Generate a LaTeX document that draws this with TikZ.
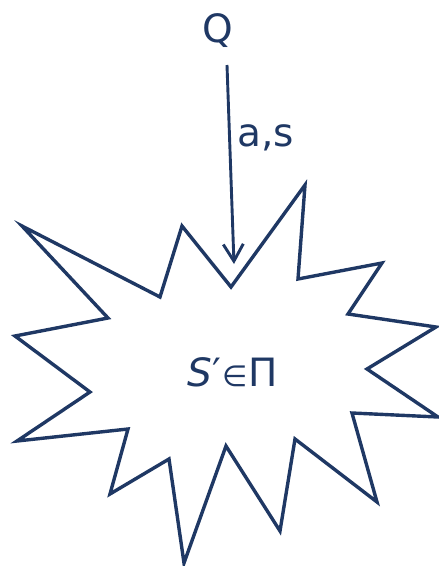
\documentclass[tikz,border=0pt]{standalone}
\usepackage{fontspec}
\setmainfont{DejaVu Sans}
\usetikzlibrary{arrows.meta}
\definecolor{navy}{HTML}{1F3864}
\tikzset{
  lbl/.style={text=navy, inner sep=0pt, font=\fontsize{39}{44}\selectfont},
  starline/.style={draw=navy, line width=3.4pt, line join=miter},
  arr/.style={draw=navy, line width=2.9pt, -{Straight Barb[length=17pt,width=20pt]}}
}
\begin{document}
\begin{tikzpicture}[x=1pt,y=-1pt]
\useasboundingbox (0,0) rectangle (439,566);
% star
\draw[starline] (22,226) -- (160,297) -- (182,226) -- (231,287) -- (305,185) -- (298,279) -- (382,263) -- (348,314) -- (436,327) -- (367,369) -- (438,417) -- (352,413) -- (377,502) -- (295,439) -- (280,531) -- (226,446) -- (184,563) -- (169,459) -- (110,494) -- (128,429) -- (17,441) -- (90,392) -- (15,336) -- (108,318) -- cycle;
\node[lbl, anchor=base] (Q) at (218,42) {Q};
\node[lbl, anchor=base west] (as) at (237,146) {a,s};
\node[lbl, anchor=base] (S) at (233,386) {\itshape S\/\upshape′\kern1pt{\fontsize{29}{30}\selectfont ∈}\kern1ptΠ};
\coordinate (start) at (227,65);
\coordinate (tip) at (234,264);
\draw[arr] (start) -- (tip);
\end{tikzpicture}
\end{document}
